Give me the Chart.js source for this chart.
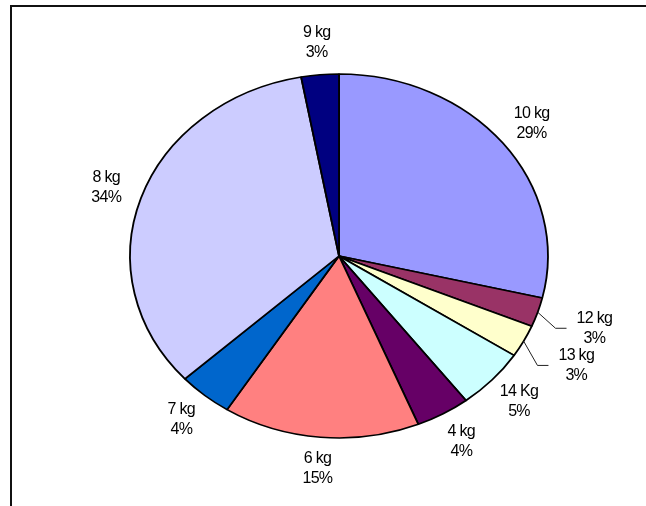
<!DOCTYPE html>
<html>
<head>
<meta charset="utf-8">
<script src="https://cdn.jsdelivr.net/npm/chart.js@4/dist/chart.umd.min.js"></script>
<style>
  html, body { margin: 0; padding: 0; background: #fff; }
  #wrap { width: 646px; height: 506px; }
</style>
</head>
<body>
<div id="wrap"><canvas id="pie" width="646" height="506"></canvas></div>
<script>
// Datos (sentido horario desde las 12)
const categories = ['10 kg', '12 kg', '13 kg', '14 Kg', '4 kg', '6 kg', '7 kg', '8 kg', '9 kg'];
const shares = [28.7, 2.6, 2.9, 5.4, 4.2, 15.2, 4.2, 33.9, 2.9];
const sliceColors = ['#9999FF', '#993366', '#FFFFCC', '#CCFFFF', '#660066', '#FF8080', '#0066CC', '#CCCCFF', '#000080'];
// etiquetas con línea guía
const leaderLabels = ['12 kg', '13 kg'];

const STRETCH_X = 1.148; // el pastel original es una elipse

// ** Marco del área del gráfico **
const framePlugin = {
    id: 'frame',
    beforeDraw(chart) {
        const ctx = chart.ctx;
        ctx.save();
        ctx.strokeStyle = '#111';
        ctx.lineWidth = 2;
        ctx.strokeRect(11, 6, 700, 600);
        ctx.restore();
    }
};

// ** Estirar el pastel horizontalmente **
const ellipsePlugin = {
    id: 'ellipse',
    beforeDatasetsDraw(chart) {
        const arc = chart.getDatasetMeta(0).data[0];
        const ctx = chart.ctx;
        ctx.save();
        ctx.translate(arc.x, arc.y);
        ctx.scale(STRETCH_X, 1);
        ctx.translate(-arc.x, -arc.y);
    },
    afterDatasetsDraw(chart) {
        chart.ctx.restore();
    }
};

// ** Etiquetas: categoría + porcentaje **
const labelPlugin = {
    id: 'sliceLabels',
    afterDraw(chart) {
        const ctx = chart.ctx;
        const meta = chart.getDatasetMeta(0);
        const total = shares.reduce((s, v) => s + v, 0);
        ctx.save();
        ctx.font = '16px "Liberation Sans", Arial, sans-serif';
        ctx.letterSpacing = '-0.7px';
        ctx.fillStyle = '#000';
        ctx.textAlign = 'center';
        ctx.textBaseline = 'middle';
        meta.data.forEach((arc, i) => {
            const mid = (arc.startAngle + arc.endAngle) / 2;
            const r = arc.outerRadius;
            const hasLeader = leaderLabels.includes(categories[i]);
            const k = hasLeader ? 1.285 : 1.175;
            const lx = arc.x + Math.cos(mid) * r * STRETCH_X * k;
            const ly = arc.y + Math.sin(mid) * r * k;
            const pct = Math.round(shares[i] / total * 100) + '%';
            ctx.fillText(categories[i], lx, ly - 10);
            ctx.fillText(pct, lx, ly + 10);

            if (hasLeader) {
                const w = ctx.measureText(categories[i]).width;
                const left = lx - w / 2;
                const ex = arc.x + Math.cos(mid) * r * STRETCH_X;
                const ey = arc.y + Math.sin(mid) * r;
                ctx.beginPath();
                ctx.strokeStyle = '#222';
                ctx.lineWidth = 1;
                ctx.moveTo(ex, ey);
                ctx.lineTo(left - 21, ly);
                ctx.lineTo(left - 10, ly);
                ctx.stroke();
            }
        });
        ctx.restore();
    }
};

new Chart(document.getElementById('pie'), {
    type: 'pie',
    data: {
        labels: categories,
        datasets: [{
            data: shares,
            backgroundColor: sliceColors,
            borderColor: '#000',
            borderWidth: 1.6
        }]
    },
    options: {
        responsive: false,
        animation: false,
        radius: 182,
        layout: { padding: { left: 52, right: 20, top: 26, bottom: 20 } },
        plugins: {
            legend: { display: false },
            tooltip: { enabled: false }
        }
    },
    plugins: [framePlugin, ellipsePlugin, labelPlugin]
});
</script>
</body>
</html>
